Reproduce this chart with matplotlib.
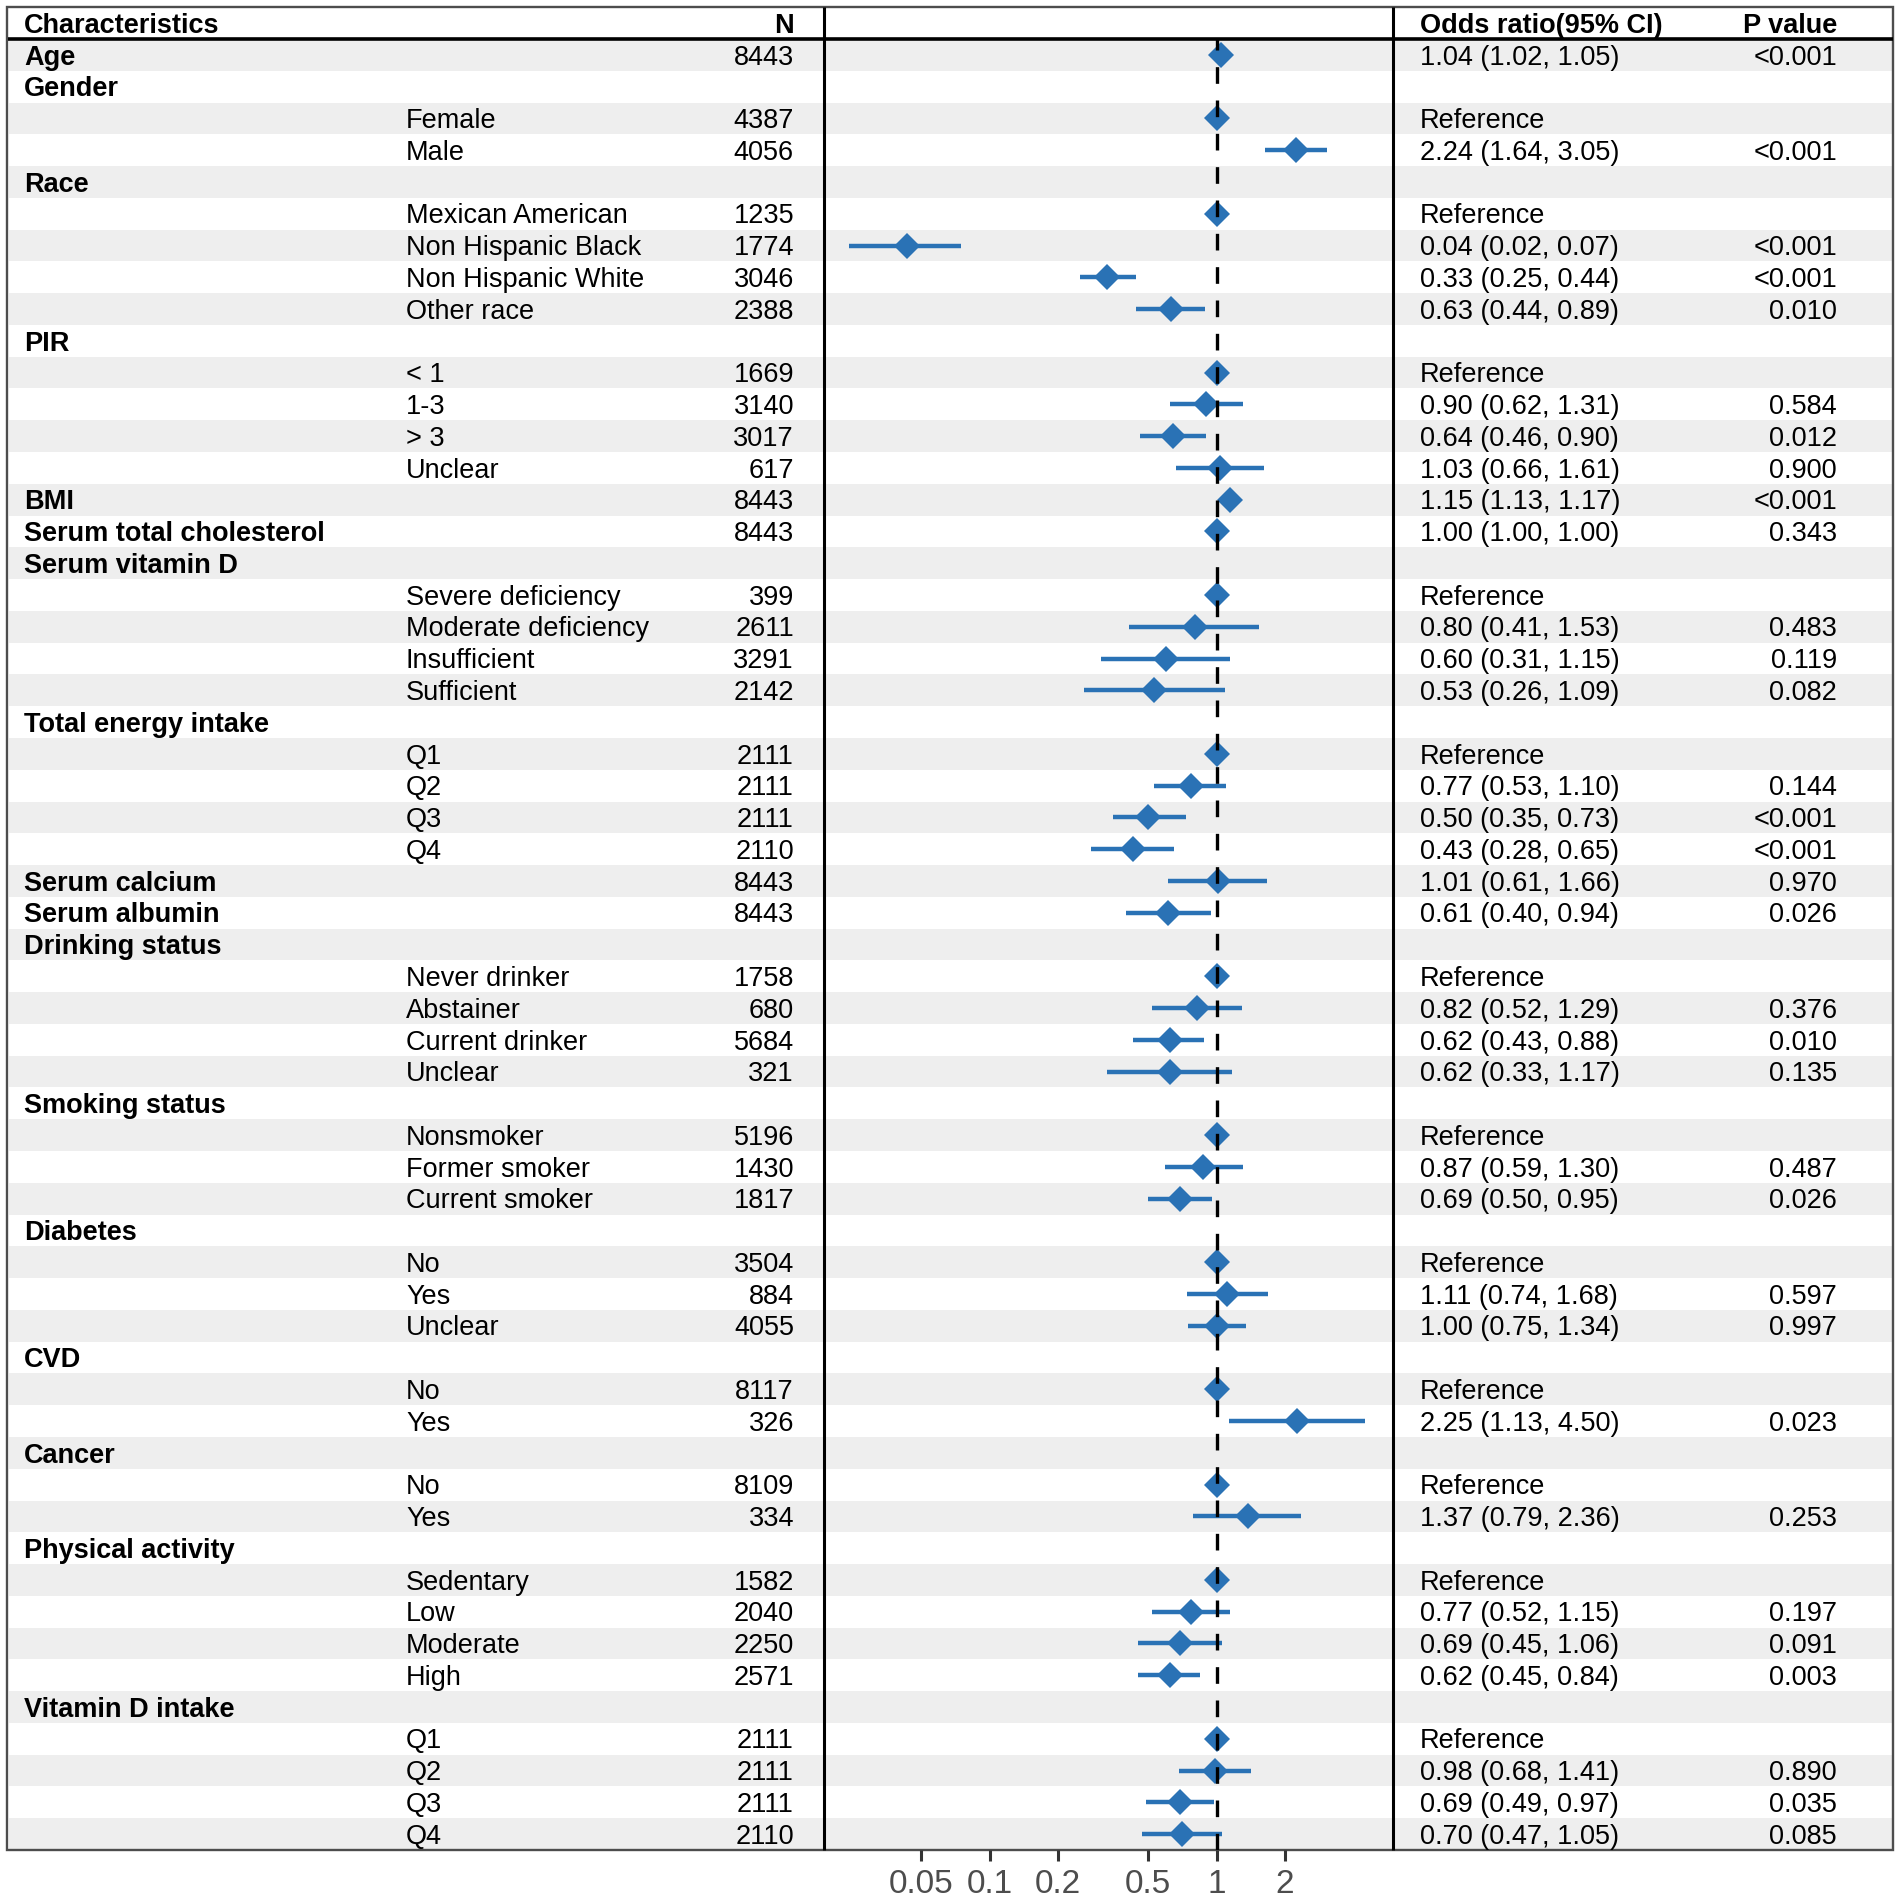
import numpy as np
import matplotlib.pyplot as plt
from matplotlib.patches import Rectangle
from matplotlib.ticker import FixedLocator, NullLocator

plt.rcParams['font.family'] = ['Liberation Sans', 'DejaVu Sans']

nan = np.nan

labels = ['Age', 'Gender', 'Female', 'Male', 'Race', 'Mexican American',
          'Non Hispanic Black', 'Non Hispanic White', 'Other race', 'PIR',
          '< 1', '1-3', '> 3', 'Unclear', 'BMI', 'Serum total cholesterol',
          'Serum vitamin D', 'Severe deficiency', 'Moderate deficiency',
          'Insufficient', 'Sufficient', 'Total energy intake', 'Q1', 'Q2',
          'Q3', 'Q4', 'Serum calcium', 'Serum albumin', 'Drinking status',
          'Never drinker', 'Abstainer', 'Current drinker', 'Unclear',
          'Smoking status', 'Nonsmoker', 'Former smoker', 'Current smoker',
          'Diabetes', 'No', 'Yes', 'Unclear', 'CVD', 'No', 'Yes', 'Cancer',
          'No', 'Yes', 'Physical activity', 'Sedentary', 'Low', 'Moderate',
          'High', 'Vitamin D intake', 'Q1', 'Q2', 'Q3', 'Q4']

# 0 = variable name (bold), 1 = level of a variable
is_sub = [0, 0, 1, 1, 0, 1, 1, 1, 1, 0, 1, 1, 1, 1, 0, 0, 0, 1, 1, 1, 1,
          0, 1, 1, 1, 1, 0, 0, 0, 1, 1, 1, 1, 0, 1, 1, 1, 0, 1, 1, 1, 0,
          1, 1, 0, 1, 1, 0, 1, 1, 1, 1, 0, 1, 1, 1, 1]

n_vals = ['8443', '', '4387', '4056', '', '1235', '1774', '3046', '2388', '',
          '1669', '3140', '3017', '617', '8443', '8443', '', '399', '2611',
          '3291', '2142', '', '2111', '2111', '2111', '2110', '8443', '8443',
          '', '1758', '680', '5684', '321', '', '5196', '1430', '1817', '',
          '3504', '884', '4055', '', '8117', '326', '', '8109', '334', '',
          '1582', '2040', '2250', '2571', '', '2111', '2111', '2111', '2110']

# reference levels have OR 1 and no interval
# (non hispanic black is plotted from the unrounded values, as in the figure)
or_est = [1.04, nan, 1.00, 2.24, nan, 1.00, 0.043, 0.33, 0.63, nan, 1.00, 0.90,
          0.64, 1.03, 1.15, 1.00, nan, 1.00, 0.80, 0.60, 0.53, nan, 1.00, 0.77,
          0.50, 0.43, 1.01, 0.61, nan, 1.00, 0.82, 0.62, 0.62, nan, 1.00, 0.87,
          0.69, nan, 1.00, 1.11, 1.00, nan, 1.00, 2.25, nan, 1.00, 1.37, nan,
          1.00, 0.77, 0.69, 0.62, nan, 1.00, 0.98, 0.69, 0.70]

ci_low = [1.02, nan, nan, 1.64, nan, nan, 0.024, 0.25, 0.44, nan, nan, 0.62,
          0.46, 0.66, 1.13, 1.00, nan, nan, 0.41, 0.31, 0.26, nan, nan, 0.53,
          0.35, 0.28, 0.61, 0.40, nan, nan, 0.52, 0.43, 0.33, nan, nan, 0.59,
          0.50, nan, nan, 0.74, 0.75, nan, nan, 1.13, nan, nan, 0.79, nan,
          nan, 0.52, 0.45, 0.45, nan, nan, 0.68, 0.49, 0.47]

ci_high = [1.05, nan, nan, 3.05, nan, nan, 0.075, 0.44, 0.89, nan, nan, 1.31,
           0.90, 1.61, 1.17, 1.00, nan, nan, 1.53, 1.15, 1.09, nan, nan, 1.10,
           0.73, 0.65, 1.66, 0.94, nan, nan, 1.29, 0.88, 1.17, nan, nan, 1.30,
           0.95, nan, nan, 1.68, 1.34, nan, nan, 4.50, nan, nan, 2.36, nan,
           nan, 1.15, 1.06, 0.84, nan, nan, 1.41, 0.97, 1.05]

or_text = ['1.04 (1.02, 1.05)', '', 'Reference', '2.24 (1.64, 3.05)', '',
           'Reference', '0.04 (0.02, 0.07)', '0.33 (0.25, 0.44)',
           '0.63 (0.44, 0.89)', '', 'Reference', '0.90 (0.62, 1.31)',
           '0.64 (0.46, 0.90)', '1.03 (0.66, 1.61)', '1.15 (1.13, 1.17)',
           '1.00 (1.00, 1.00)', '', 'Reference', '0.80 (0.41, 1.53)',
           '0.60 (0.31, 1.15)', '0.53 (0.26, 1.09)', '', 'Reference',
           '0.77 (0.53, 1.10)', '0.50 (0.35, 0.73)', '0.43 (0.28, 0.65)',
           '1.01 (0.61, 1.66)', '0.61 (0.40, 0.94)', '', 'Reference',
           '0.82 (0.52, 1.29)', '0.62 (0.43, 0.88)', '0.62 (0.33, 1.17)', '',
           'Reference', '0.87 (0.59, 1.30)', '0.69 (0.50, 0.95)', '',
           'Reference', '1.11 (0.74, 1.68)', '1.00 (0.75, 1.34)', '',
           'Reference', '2.25 (1.13, 4.50)', '', 'Reference',
           '1.37 (0.79, 2.36)', '', 'Reference', '0.77 (0.52, 1.15)',
           '0.69 (0.45, 1.06)', '0.62 (0.45, 0.84)', '', 'Reference',
           '0.98 (0.68, 1.41)', '0.69 (0.49, 0.97)', '0.70 (0.47, 1.05)']

p_text = ['<0.001', '', '', '<0.001', '', '', '<0.001', '<0.001', '0.010', '',
          '', '0.584', '0.012', '0.900', '<0.001', '0.343', '', '', '0.483',
          '0.119', '0.082', '', '', '0.144', '<0.001', '<0.001', '0.970',
          '0.026', '', '', '0.376', '0.010', '0.135', '', '', '0.487', '0.026',
          '', '', '0.597', '0.997', '', '', '0.023', '', '', '0.253', '', '',
          '0.197', '0.091', '0.003', '', '', '0.890', '0.035', '0.085']

x_ticks = [0.05, 0.1, 0.2, 0.5, 1, 2]
x_ticklabels = ['0.05', '0.1', '0.2', '0.5', '1', '2']

blue = '#2A72B5'
stripe = '#EEEEEE'
fs = 19.5

# layout in pixels
W = H = 1902
top, bottom = 39, 1850
nrow = len(labels)
rh = (bottom - top) / nrow
x_lab, x_sub, x_n, x_sep1, x_sep2, x_or, x_p = 24, 406, 794, 824, 1393, 1420, 1837

fig = plt.figure(figsize=(W / 100, H / 100), dpi=100)

bg = fig.add_axes([0, 0, 1, 1])
bg.set_xlim(0, W)
bg.set_ylim(H, 0)
bg.axis('off')

rows = np.arange(nrow)
yc = top + (rows + 0.5) * rh
off = 0.358 * fs * 100 / 72  # half cap height, to sit caps in the middle

for i in rows:
    if i % 2 == 0:
        bg.add_patch(Rectangle((9, top + i * rh), 1883, rh, color=stripe, lw=0))
    if is_sub[i]:
        bg.text(x_sub, yc[i] + off, labels[i], fontsize=fs, va='baseline')
    else:
        bg.text(x_lab, yc[i] + off, labels[i], fontsize=fs, va='baseline',
                fontweight='bold')
    bg.text(x_n, yc[i] + off, n_vals[i], fontsize=fs, va='baseline', ha='right')
    bg.text(x_or, yc[i] + off, or_text[i], fontsize=fs, va='baseline')
    bg.text(x_p, yc[i] + off, p_text[i], fontsize=fs, va='baseline', ha='right')

# header
hy = 23 + off
bg.text(x_lab, hy, 'Characteristics', fontsize=fs, fontweight='bold', va='baseline')
bg.text(x_n, hy, 'N', fontsize=fs, fontweight='bold', va='baseline', ha='right')
bg.text(x_or, hy, 'Odds ratio(95% CI)', fontsize=fs, fontweight='bold', va='baseline')
bg.text(x_p, hy, 'P value', fontsize=fs, fontweight='bold', va='baseline', ha='right')

bg.plot([8, 1893], [39, 39], color='black', lw=2.6, solid_capstyle='butt')
bg.vlines([x_sep1, x_sep2], 7, bottom, color='black', lw=2.2)
bg.add_patch(Rectangle((7, 7), 1886, bottom - 7, fill=False, ec='#4D4D4D', lw=1.7))

# forest panel
ax = fig.add_axes([x_sep1 / W, (H - bottom) / H, (x_sep2 - x_sep1) / W, (bottom - top) / H])
ax.patch.set_alpha(0)
ax.set_xscale('log')
ax.set_xlim(0.01862, 5.98)
ax.set_ylim(nrow - 0.5, -0.5)
for s in ax.spines.values():
    s.set_visible(False)

ax.hlines(rows, ci_low, ci_high, color=blue, lw=3.2, zorder=2)
ax.plot(or_est, rows, 'D', ms=13, color=blue, mew=0, zorder=3, ls='none')
ax.axvline(1, color='black', lw=2.4, ls=(0, (5, 5)), zorder=4)

ax.xaxis.set_major_locator(FixedLocator(x_ticks))
ax.xaxis.set_minor_locator(NullLocator())
ax.set_xticklabels(x_ticklabels)
ax.tick_params(axis='x', length=8, width=2.2, color='#333333', labelsize=24,
               labelcolor='#4D4D4D', pad=6)
ax.set_yticks([])

fig.savefig('out.png', dpi=100)
